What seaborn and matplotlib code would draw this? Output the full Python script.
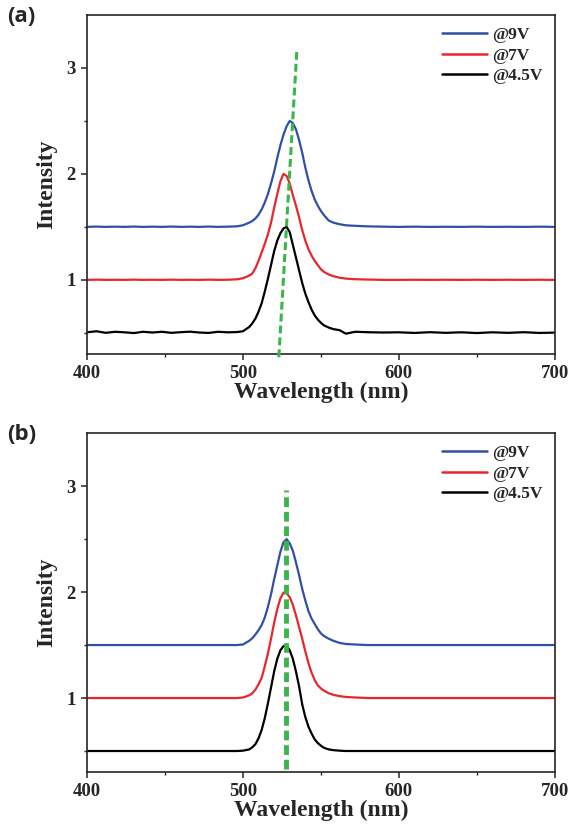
import numpy as np
import pandas as pd
import seaborn as sns
import matplotlib.pyplot as plt
from matplotlib.ticker import MultipleLocator, FixedLocator

# -------------------------------
# DATA
# -------------------------------
wl_left = [400, 406, 412, 418, 424, 430, 436, 442, 448, 454, 460, 466, 472, 478, 484, 490]
wl_peak = [496, 500, 504, 506, 508, 510, 512, 514, 516, 518, 520, 522, 524, 526, 528, 530,
           532, 534, 536, 538, 540, 542, 544, 546, 548, 550, 552, 555, 558, 562, 566, 572,
           580, 590]
wl_right = [600, 610, 620, 630, 640, 650, 660, 670, 680, 690, 700]
wavelength = wl_left + wl_peak + wl_right

# panel (a)
a_9v = [1.500, 1.503, 1.500, 1.502, 1.500, 1.503, 1.500, 1.502, 1.500, 1.503, 1.500, 1.502,
        1.500, 1.503, 1.500, 1.502,
        1.505, 1.515, 1.540, 1.555, 1.580, 1.615, 1.665, 1.730, 1.810, 1.910, 2.020, 2.150,
        2.270, 2.370, 2.450, 2.500, 2.480, 2.420, 2.320, 2.200, 2.060, 1.940, 1.840, 1.760,
        1.700, 1.650, 1.610, 1.560, 1.540, 1.525, 1.515, 1.510, 1.505, 1.502,
        1.500, 1.502, 1.500, 1.501, 1.500, 1.502, 1.500, 1.501, 1.500, 1.502, 1.500]
a_7v = [1.000, 1.002, 1.000, 1.001, 1.000, 1.002, 1.000, 1.001, 1.000, 1.002, 1.000, 1.001,
        1.000, 1.002, 1.000, 1.001,
        1.005, 1.015, 1.040, 1.060, 1.110, 1.180, 1.260, 1.340, 1.430, 1.540, 1.680, 1.810,
        1.930, 2.000, 1.980, 1.910, 1.800, 1.700, 1.590, 1.470, 1.370, 1.290, 1.230, 1.180,
        1.140, 1.100, 1.075, 1.050, 1.035, 1.020, 1.012, 1.006, 1.003, 1.000,
        1.000, 1.001, 1.000, 1.001, 1.000, 1.001, 1.000, 1.001, 1.000, 1.001, 1.000]
a_45v = [0.505, 0.515, 0.500, 0.510, 0.505, 0.498, 0.510, 0.503, 0.510, 0.500, 0.506, 0.511,
         0.503, 0.499, 0.510, 0.505,
         0.507, 0.515, 0.555, 0.590, 0.635, 0.700, 0.780, 0.890, 1.010, 1.140, 1.270, 1.370,
         1.440, 1.485, 1.500, 1.450, 1.330, 1.210, 1.090, 0.970, 0.870, 0.790, 0.720, 0.665,
         0.625, 0.595, 0.570, 0.550, 0.535, 0.525, 0.492, 0.510, 0.506, 0.503,
         0.505, 0.499, 0.506, 0.500, 0.505, 0.498, 0.505, 0.500, 0.506, 0.499, 0.502]
guide_a_x = [523.0, 534.5]
guide_a_y = [0.27, 3.15]

# panel (b)
b_9v = [1.500, 1.500, 1.500, 1.500, 1.500, 1.500, 1.500, 1.500, 1.500, 1.500, 1.500, 1.500,
        1.500, 1.500, 1.500, 1.500,
        1.500, 1.505, 1.540, 1.565, 1.600, 1.640, 1.690, 1.760, 1.860, 1.980, 2.120, 2.250,
        2.380, 2.470, 2.500, 2.460, 2.390, 2.280, 2.160, 2.030, 1.920, 1.820, 1.750, 1.700,
        1.650, 1.610, 1.585, 1.560, 1.540, 1.520, 1.510, 1.505, 1.500, 1.500,
        1.500, 1.500, 1.500, 1.500, 1.500, 1.500, 1.500, 1.500, 1.500, 1.500, 1.500]
b_7v = [1.000, 1.000, 1.000, 1.000, 1.000, 1.000, 1.000, 1.000, 1.000, 1.000, 1.000, 1.000,
        1.000, 1.000, 1.000, 1.000,
        1.000, 1.005, 1.025, 1.045, 1.080, 1.130, 1.190, 1.300, 1.420, 1.560, 1.710, 1.840,
        1.940, 1.995, 1.990, 1.950, 1.880, 1.780, 1.670, 1.560, 1.440, 1.330, 1.240, 1.170,
        1.120, 1.090, 1.070, 1.045, 1.030, 1.018, 1.010, 1.005, 1.000, 1.000,
        1.000, 1.000, 1.000, 1.000, 1.000, 1.000, 1.000, 1.000, 1.000, 1.000, 1.000]
b_45v = [0.500, 0.500, 0.500, 0.500, 0.500, 0.500, 0.500, 0.500, 0.500, 0.500, 0.500, 0.500,
         0.500, 0.500, 0.500, 0.500,
         0.500, 0.503, 0.515, 0.535, 0.565, 0.620, 0.700, 0.810, 0.950, 1.100, 1.250, 1.370,
         1.450, 1.490, 1.495, 1.450, 1.370, 1.250, 1.110, 0.940, 0.820, 0.730, 0.665, 0.610,
         0.575, 0.550, 0.530, 0.515, 0.508, 0.503, 0.500, 0.500, 0.500, 0.500,
         0.500, 0.500, 0.500, 0.500, 0.500, 0.500, 0.500, 0.500, 0.500, 0.500, 0.500]
guide_b_x = [527.5, 527.5]
guide_b_y = [0.33, 2.96]

labels = ["@9V", "@7V", "@4.5V"]
colors = ["#2f4fa8", "#e8262b", "#000000"]
green = "#3ab54a"

panels = [
    ("(a)", [a_9v, a_7v, a_45v], guide_a_x, guide_a_y, 2.2, (2.6, 1.3)),
    ("(b)", [b_9v, b_7v, b_45v], guide_b_x, guide_b_y, 3.5, (2.0, 1.0)),
]

# -------------------------------
# STYLE
# -------------------------------
sns.set_style("ticks")
plt.rcParams["font.family"] = ["Liberation Serif", "DejaVu Serif"]
plt.rcParams["font.weight"] = "bold"

serif = {"family": "Liberation Serif", "weight": "bold"}

fig = plt.figure(figsize=(5.69, 8.33), dpi=100)
axes_pos = [[0.153, 0.575, 0.822, 0.407], [0.153, 0.073, 0.822, 0.407]]

for (tag, series, gx, gy, glw, gdash), pos in zip(panels, axes_pos):
    ax = fig.add_axes(pos)
    for vals, lab, col in zip(series, labels, colors):
        df = pd.DataFrame({"wl": wavelength, "I": vals})
        sns.lineplot(data=df, x="wl", y="I", ax=ax, color=col, lw=1.6,
                     label=lab, sort=False, estimator=None)
    ax.plot(gx, gy, color=green, lw=glw, linestyle=(0, gdash), clip_on=False, zorder=5)

    ax.set_xlim(400, 700)
    ax.set_ylim(0.3, 3.5)
    ax.xaxis.set_major_locator(MultipleLocator(100))
    ax.xaxis.set_minor_locator(FixedLocator([450, 550, 650]))
    ax.yaxis.set_major_locator(MultipleLocator(1))
    ax.yaxis.set_minor_locator(FixedLocator([0.5, 1.5, 2.5]))
    ax.tick_params(which="major", direction="out", length=4, width=1.1, labelsize=13.5, pad=4)
    ax.tick_params(which="minor", direction="out", length=2.5, width=1.0)
    for lbl in ax.get_xticklabels() + ax.get_yticklabels():
        lbl.set_fontproperties(serif)
        lbl.set_fontsize(13.5)
    for sp in ax.spines.values():
        sp.set_visible(True)
        sp.set_linewidth(1.2)

    ax.set_xlabel("Wavelength (nm)", fontdict=serif, fontsize=17, labelpad=0)
    ax.set_ylabel("Intensity", fontdict=serif, fontsize=17, labelpad=7)

    leg = ax.legend(loc="upper right", frameon=False, handlelength=2.6,
                    handletextpad=0.3, labelspacing=0.25, borderaxespad=0.3,
                    prop={"family": "Liberation Serif", "weight": "bold", "size": 12.5})
    for h in leg.get_lines():
        h.set_linewidth(1.8)

    fig.text(0.012, pos[1] + pos[3] - 0.002, tag, fontsize=16, fontweight="bold",
             family=["Open Sans", "DejaVu Sans"], va="center", ha="left")

fig.savefig("out.png", dpi=100)
